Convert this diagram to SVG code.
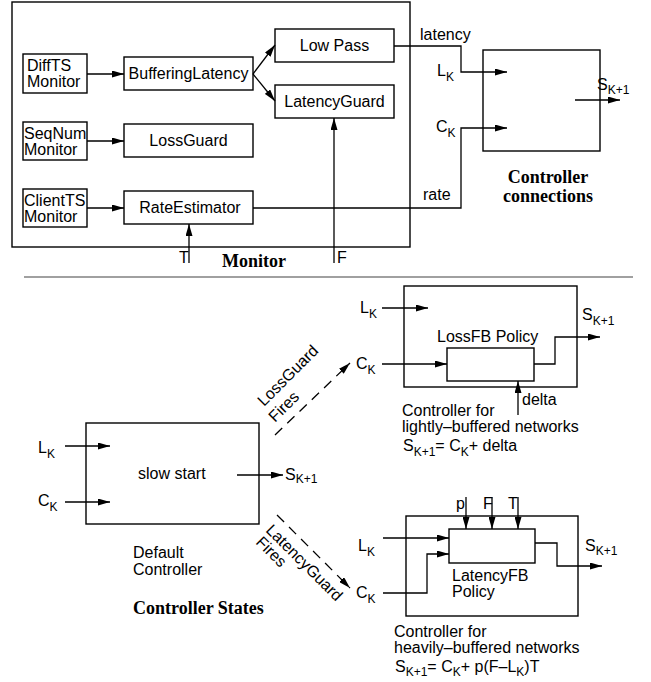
<svg xmlns="http://www.w3.org/2000/svg" width="651" height="682" viewBox="0 0 651 682">
<defs>
<marker id="ah" markerWidth="12" markerHeight="7" refX="12" refY="3.5" orient="auto" markerUnits="userSpaceOnUse"><path d="M0,0 L12,3.5 L0,7 z" fill="#000"/></marker>
</defs>
<style>
.box{fill:none;stroke:#000;stroke-width:1.4}
.ln{fill:none;stroke:#000;stroke-width:1.3}
.arr{marker-end:url(#ah)}
.dash{stroke-dasharray:10 7}
text{font-family:"Liberation Sans",Arial,Helvetica,sans-serif;font-size:16px;fill:#000}
.sub{font-size:12px}
.mid{text-anchor:middle}
.title{font-family:"Liberation Serif","Times New Roman",serif;font-weight:bold;font-size:18px}
</style>
<rect width="651" height="682" fill="#fff"/>

<g id="monitor">
<rect class="box" x="12" y="2" width="398" height="245"/>
<text class="title" x="222" y="267">Monitor</text>
</g>
<g id="difftsmonitor"><rect class="box" x="23" y="54" width="64" height="39"/><text x="27" y="71">DiffTS</text><text x="27" y="87">Monitor</text></g>
<g id="seqnummonitor"><rect class="box" x="23" y="122" width="64" height="38"/><text x="24" y="139">SeqNum</text><text x="24" y="155">Monitor</text></g>
<g id="clienttsmonitor"><rect class="box" x="23" y="189" width="64" height="38"/><text x="24" y="206">ClientTS</text><text x="24" y="222">Monitor</text></g>
<g id="bufferinglatency"><rect class="box" x="124" y="57" width="129" height="33"/><text class="mid" x="188.5" y="79">BufferingLatency</text></g>
<g id="lossguard"><rect class="box" x="124" y="124" width="129" height="33"/><text class="mid" x="188.5" y="146">LossGuard</text></g>
<g id="rateestimator"><rect class="box" x="124" y="191" width="129" height="33"/><text class="mid" x="190" y="213">RateEstimator</text></g>
<g id="lowpass"><rect class="box" x="275" y="29" width="119" height="33"/><text class="mid" x="334.5" y="51">Low Pass</text></g>
<g id="latencyguard"><rect class="box" x="275" y="85" width="119" height="33"/><text class="mid" x="334.5" y="107">LatencyGuard</text></g>

<g id="controllerconnections">
<rect class="box" x="483" y="50" width="117" height="101"/>
<text class="title mid" x="548" y="183">Controller</text>
<text class="title mid" x="548" y="202">connections</text>
</g>

<line x1="24" y1="277" x2="633" y2="277" stroke="#808080" stroke-width="1.3"/>

<g id="defaultcontroller">
<rect class="box" x="86" y="423" width="173" height="101"/>
<text x="138" y="479">slow start</text>
<text x="133" y="558">Default</text>
<text x="133" y="575">Controller</text>
</g>
<text class="title" x="133" y="614">Controller States</text>

<g id="lossfbcontroller">
<rect class="box" x="404" y="286" width="173" height="101"/>
<rect class="box" x="447" y="348" width="87" height="33"/>
<text x="437" y="342">LossFB Policy</text>
<text x="402" y="416">Controller for</text>
<text x="402" y="432">lightly–buffered networks</text>
<text x="403" y="451">S<tspan class="sub" dy="5">K+1</tspan><tspan dy="-5">= C</tspan><tspan class="sub" dy="5">K</tspan><tspan dy="-5">+ delta</tspan></text>
</g>

<g id="latencyfbcontroller">
<rect class="box" x="406" y="516" width="172" height="100"/>
<rect class="box" x="449" y="529" width="86" height="34"/>
<text x="452" y="581">LatencyFB</text>
<text x="452" y="597">Policy</text>
<text x="394" y="637">Controller for</text>
<text x="394" y="653">heavily–buffered networks</text>
<text x="395" y="672">S<tspan class="sub" dy="4">K+1</tspan><tspan dy="-4">= C</tspan><tspan class="sub" dy="4">K</tspan><tspan dy="-4">+ p(F–L</tspan><tspan class="sub" dy="4">K</tspan><tspan dy="-4">)T</tspan></text>
</g>

<g id="connectors">
<path class="ln arr" d="M87,74 H124"/>
<path class="ln arr" d="M87,141 H124"/>
<path class="ln arr" d="M87,208 H124"/>
<path class="ln arr" d="M253,74 L275,45"/>
<path class="ln arr" d="M253,74 L275,101"/>
<path class="ln arr" d="M189,263 V224"/>
<path class="ln arr" d="M334,263 V118"/>
<path class="ln arr" d="M394,46 H461 V72 H507"/>
<path class="ln arr" d="M253,208 H461 V128 H507"/>
<path class="ln arr" d="M575,100 H620"/>
<path class="ln arr" d="M65,446 H110"/>
<path class="ln arr" d="M65,502 H110"/>
<path class="ln arr" d="M237,475 H283"/>
<path class="ln arr dash" d="M275,435 L350,363"/>
<path class="ln arr dash" d="M277,515 L350,588"/>
<path class="ln arr" d="M382,308 H428"/>
<path class="ln arr" d="M382,364 H447"/>
<path class="ln arr" d="M534,364 H555 V337 H600"/>
<path class="ln arr" d="M518,415 V381"/>
<path class="ln arr" d="M466,497 V529"/>
<path class="ln arr" d="M492,497 V529"/>
<path class="ln arr" d="M518,497 V529"/>
<path class="ln arr" d="M383,538 H449"/>
<path class="ln arr" d="M383,593 H427 V554 H449"/>
<path class="ln arr" d="M535,543 H557 V566 H602"/>
</g>

<g id="labels">
<text x="420" y="40">latency</text>
<text x="423" y="200">rate</text>
<text x="437" y="76">L<tspan class="sub" dy="5">K</tspan></text>
<text x="436" y="132">C<tspan class="sub" dy="5">K</tspan></text>
<text x="597" y="90">S<tspan class="sub" dy="4">K+1</tspan></text>
<text x="179" y="263">T</text>
<text x="337" y="263">F</text>
<text x="38" y="453">L<tspan class="sub" dy="5">K</tspan></text>
<text x="38" y="506">C<tspan class="sub" dy="5">K</tspan></text>
<text x="285" y="480">S<tspan class="sub" dy="3">K+1</tspan></text>
<text x="264" y="407" transform="rotate(-45 264 407)">LossGuard</text>
<text x="275" y="423" transform="rotate(-45 275 423)">Fires</text>
<text x="265" y="531" transform="rotate(45 265 531)">LatencyGuard</text>
<text x="255" y="543" transform="rotate(45 255 543)">Fires</text>
<text x="360" y="313">L<tspan class="sub" dy="5">K</tspan></text>
<text x="356" y="369">C<tspan class="sub" dy="5">K</tspan></text>
<text x="582" y="320">S<tspan class="sub" dy="5">K+1</tspan></text>
<text x="522" y="405">delta</text>
<text x="456" y="509">p</text>
<text x="483" y="509">F</text>
<text x="508" y="509">T</text>
<text x="358" y="551">L<tspan class="sub" dy="5">K</tspan></text>
<text x="356" y="598">C<tspan class="sub" dy="5">K</tspan></text>
<text x="585" y="551">S<tspan class="sub" dy="4">K+1</tspan></text>
</g>
</svg>
